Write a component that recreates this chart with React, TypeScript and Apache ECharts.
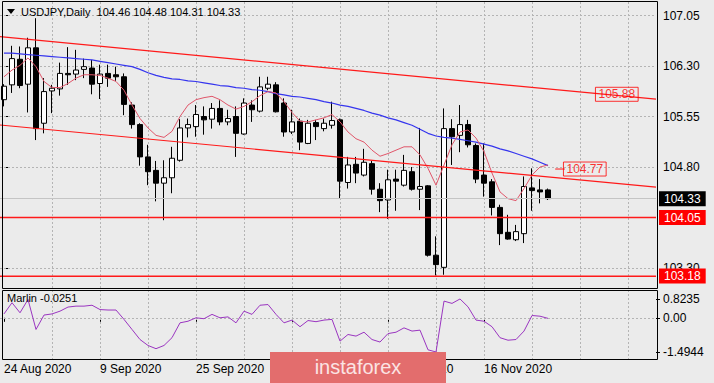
import React, { useEffect, useRef } from "react";
import * as echarts from "echarts";

// ---------- data ----------
const SYMBOL = "USDJPY,Daily";
const DATES = [
  "24 Aug 2020", "25 Aug 2020", "26 Aug 2020", "27 Aug 2020", "28 Aug 2020",
  "31 Aug 2020", "1 Sep 2020", "2 Sep 2020", "3 Sep 2020", "4 Sep 2020",
  "7 Sep 2020", "8 Sep 2020", "9 Sep 2020", "10 Sep 2020", "11 Sep 2020",
  "14 Sep 2020", "15 Sep 2020", "16 Sep 2020", "17 Sep 2020", "18 Sep 2020",
  "21 Sep 2020", "22 Sep 2020", "23 Sep 2020", "24 Sep 2020", "25 Sep 2020",
  "28 Sep 2020", "29 Sep 2020", "30 Sep 2020", "1 Oct 2020", "2 Oct 2020",
  "5 Oct 2020", "6 Oct 2020", "7 Oct 2020", "8 Oct 2020", "9 Oct 2020",
  "12 Oct 2020", "13 Oct 2020", "14 Oct 2020", "15 Oct 2020", "16 Oct 2020",
  "19 Oct 2020", "20 Oct 2020", "21 Oct 2020", "22 Oct 2020", "23 Oct 2020",
  "26 Oct 2020", "27 Oct 2020", "28 Oct 2020", "29 Oct 2020", "30 Oct 2020",
  "2 Nov 2020", "3 Nov 2020", "4 Nov 2020", "5 Nov 2020", "6 Nov 2020",
  "9 Nov 2020", "10 Nov 2020", "11 Nov 2020", "12 Nov 2020", "13 Nov 2020",
  "16 Nov 2020", "17 Nov 2020", "18 Nov 2020", "19 Nov 2020", "20 Nov 2020",
  "23 Nov 2020", "24 Nov 2020", "25 Nov 2020", "26 Nov 2020",
];

const OPEN = [
  105.80, 106.02, 106.40, 106.03, 106.57, 105.45, 105.93, 105.96, 106.19, 106.18,
  106.25, 106.27, 106.04, 106.19, 106.17, 106.14, 105.72, 105.43, 104.95, 104.75,
  104.56, 104.64, 104.90, 105.38, 105.40, 105.55, 105.51, 105.67, 105.47, 105.55,
  105.29, 105.72, 105.63, 105.97, 106.02, 105.75, 105.32, 105.48, 105.15, 105.46,
  105.37, 105.42, 105.50, 104.57, 104.84, 104.68, 104.85, 104.47, 104.31, 104.62,
  104.53, 104.73, 104.47, 104.52, 103.49, 103.31, 105.37, 105.27, 105.43, 105.12,
  104.68, 104.58, 104.20, 103.83, 103.72, 103.81, 104.49, 104.46, 104.46,
];
const HIGH = [
  106.03, 106.60, 106.59, 106.72, 107.01, 106.12, 106.02, 106.35, 106.58, 106.54,
  106.41, 106.39, 106.32, 106.32, 106.29, 106.19, 105.76, 105.45, 105.13, 104.89,
  104.90, 105.10, 105.51, 105.52, 105.72, 105.70, 105.75, 105.79, 105.65, 105.70,
  105.82, 105.79, 106.14, 106.14, 106.06, 105.82, 105.65, 105.52, 105.50, 105.50,
  105.52, 105.77, 105.52, 104.95, 104.95, 105.07, 104.89, 104.56, 104.76, 104.76,
  104.98, 104.80, 105.38, 104.53, 103.77, 105.67, 105.51, 105.72, 105.50, 105.15,
  105.15, 104.62, 104.24, 104.09, 103.94, 104.66, 104.78, 104.62, 104.48,
];
const LOW = [
  105.70, 105.90, 105.97, 105.61, 105.20, 105.30, 105.60, 105.86, 106.02, 106.09,
  106.12, 105.88, 105.81, 105.99, 106.08, 105.57, 105.37, 104.82, 104.53, 104.29,
  104.01, 104.41, 104.88, 105.24, 105.25, 105.28, 105.37, 105.42, 105.42, 104.95,
  105.28, 105.47, 105.61, 105.94, 105.61, 105.25, 105.29, 105.05, 105.14, 105.20,
  105.33, 105.37, 104.33, 104.48, 104.56, 104.66, 104.39, 104.13, 104.03, 104.15,
  104.51, 104.45, 104.16, 103.47, 103.19, 103.20, 104.83, 105.02, 105.09, 104.56,
  104.36, 104.08, 103.64, 103.72, 103.70, 103.67, 104.15, 104.26, 104.31,
];
const CLOSE = [
  106.00, 106.41, 106.01, 106.57, 105.37, 105.92, 105.97, 106.19, 106.17, 106.24,
  106.29, 106.03, 106.18, 106.12, 106.14, 105.73, 105.43, 104.95, 104.73, 104.56,
  104.64, 104.93, 105.38, 105.43, 105.58, 105.50, 105.67, 105.47, 105.52, 105.30,
  105.75, 105.65, 105.99, 106.03, 105.62, 105.32, 105.47, 105.17, 105.45, 105.40,
  105.45, 105.49, 104.59, 104.83, 104.71, 104.87, 104.47, 104.30, 104.61, 104.59,
  104.75, 104.47, 104.51, 103.49, 103.35, 105.37, 105.25, 105.43, 105.13, 104.62,
  104.56, 104.20, 103.81, 103.73, 103.84, 104.51, 104.45, 104.43, 104.33,
];

// red (fast) moving average
const MA_FAST = [
  106.14, 106.24, 106.31, 106.42, 106.29, 106.07, 105.98, 105.98, 106.04, 106.12,
  106.17, 106.17, 106.16, 106.12, 106.07, 105.94, 105.72, 105.52, 105.38, 105.27,
  105.24, 105.33, 105.55, 105.72, 105.80, 105.83, 105.85, 105.80, 105.72, 105.66,
  105.70, 105.77, 105.86, 105.92, 105.90, 105.77, 105.61, 105.48, 105.47, 105.50,
  105.53, 105.58, 105.47, 105.32, 105.22, 105.17, 105.05, 104.96, 105.00, 105.05,
  105.10, 105.10, 104.98, 104.78, 104.53, 104.83, 105.13, 105.32, 105.35, 105.23,
  105.03, 104.71, 104.43, 104.33, 104.30, 104.48, 104.68, 104.80, 104.83,
];
// blue (slow) moving average
const MA_SLOW = [
  106.49, 106.49, 106.48, 106.47, 106.46, 106.45, 106.44, 106.43, 106.42, 106.41,
  106.40, 106.39, 106.37, 106.35, 106.33, 106.31, 106.29, 106.25, 106.20, 106.16,
  106.13, 106.11, 106.10, 106.08, 106.07, 106.05, 106.03, 106.01, 106.00, 105.98,
  105.97, 105.95, 105.94, 105.92, 105.89, 105.87, 105.85, 105.84, 105.82, 105.80,
  105.77, 105.75, 105.72, 105.70, 105.67, 105.64, 105.60, 105.57, 105.53, 105.50,
  105.46, 105.42, 105.36, 105.30, 105.26, 105.24, 105.23, 105.21, 105.19, 105.17,
  105.14, 105.11, 105.07, 105.04, 105.00, 104.96, 104.92, 104.87, 104.82,
];
// Marlin oscillator
const MARLIN = [
  0.17, 0.66, 0.22, 0.80, -0.51, 0.12, 0.17, 0.29, 0.47, 0.51,
  0.51, 0.55, 0.36, 0.34, 0.34, -0.07, -0.51, -0.95, -1.21, -1.35,
  -1.21, -0.87, -0.22, -0.15, 0.0, -0.04, 0.15, 0.0, 0.04, -0.22,
  0.29, 0.15, 0.55, 0.58, 0.15, -0.22, -0.10, -0.39, -0.12, -0.17,
  -0.10, -0.07, -1.02, -0.73, -0.80, -0.63, -0.95, -1.06, -0.69, -0.63,
  -0.44, -0.58, -0.54, -1.40, -1.4944, 0.73, 0.63, 0.8235, 0.48, -0.10,
  -0.15, -0.39, -0.87, -0.98, -0.95, -0.58, 0.10, 0.07, -0.0251,
];

const PRICE_TICKS = [107.05, 106.3, 105.55, 104.8, 104.05, 103.3];
const PRICE_LABELS = [107.05, 106.3, 105.55, 104.8, 103.3];
const LEVELS = [104.05, 103.18];
const BID = 104.33;
const MARLIN_TICKS = [0.8235, 0, -1.4944];

// trend-channel lines (x in bar units, y in price)
const UPPER_TREND = [[-0.5, 106.735], [81.5, 105.807]];
const LOWER_TREND = [[-0.5, 105.424], [81.5, 104.5]];
const PRICE_TAGS = [[76.6, 105.88], [72.6, 104.77]];
const TAG_DASH = [[68.9, 104.77], [70.1, 104.77]];

const SLOTS = 82;
const LABEL_EVERY = 12;
const GRID_EVERY = 6;

// ---------- chart ----------
const FONT = "'Liberation Sans', Arial, sans-serif";
const RED = "#ff1a1a";

export default function App() {
  const ref = useRef<HTMLDivElement | null>(null);

  useEffect(() => {
    if (!ref.current) return;
    const chart = echarts.init(ref.current, undefined, { renderer: "svg" });
    const n = DATES.length;
    const cats = [...DATES, ...Array(SLOTS - n).fill("")];
    const vGrid: number[] = [];
    for (let i = GRID_EVERY; i < SLOTS; i += GRID_EVERY) vGrid.push(i);
    const showLabel = (idx: number) => idx % LABEL_EVERY === 0 && idx < n;
    const last = n - 1;
    const gridLine = { type: [2, 2] as any, color: "#b4b4b4", width: 1 };
    const hGrid = PRICE_TICKS.filter((v) => !LEVELS.includes(v));
    const tagLabel = (bg: string) => ({
      show: true, position: "end", distance: 3,
      formatter: (p: any) => Number(p.value).toFixed(2),
      backgroundColor: bg, color: "#fff", padding: [2, 5, 1, 5], fontSize: 12, fontFamily: FONT,
    });
    const xMin = -0.5;
    const xMax = SLOTS - 0.5;

    const levelLines = LEVELS.map((v) => ({
      type: "line", xAxisIndex: 2, yAxisIndex: 0, z: 6, symbol: "none", silent: true,
      data: [[xMin, v], [xMax, v]],
      color: RED,
      lineStyle: { color: RED, width: 1.4, type: "solid", opacity: 1 },
    }));

    const option: any = {
      animation: false,
      backgroundColor: "#ebebeb",
      grid: [
        { left: 0, top: 2, width: 656, height: 286, outerBoundsMode: "none", containLabel: false },
        { left: 0, top: 291, width: 656, height: 69, outerBoundsMode: "none", containLabel: false },
      ],
      xAxis: [
        { type: "category", gridIndex: 0, data: cats, boundaryGap: true, show: false },
        {
          type: "category", gridIndex: 1, data: cats, boundaryGap: true,
          axisLine: { show: false },
          axisTick: { show: true, interval: showLabel, alignWithLabel: true, length: 4, lineStyle: { color: "#000" } },
          axisLabel: {
            show: true, interval: showLabel, align: "left", margin: 3,
            color: "#000", fontSize: 12, fontFamily: FONT,
          },
          splitLine: { show: false },
        },
        { type: "value", gridIndex: 0, min: xMin, max: xMax, show: false, splitLine: { show: false } },
      ],
      yAxis: [
        {
          type: "value", gridIndex: 0, position: "right", min: 103.003, max: 107.2506,
          axisLine: { show: false }, splitLine: { show: false },
          axisTick: { show: true, customValues: PRICE_TICKS, length: 4, lineStyle: { color: "#000" } },
          axisLabel: {
            show: true, customValues: PRICE_LABELS, margin: 7,
            formatter: (v: number) => v.toFixed(2), color: "#000", fontSize: 12, fontFamily: FONT,
          },
        },
        {
          type: "value", gridIndex: 1, position: "right", min: -1.8452, max: 1.1718,
          axisLine: { show: false }, splitLine: { show: false },
          axisTick: { show: true, customValues: MARLIN_TICKS, length: 4, lineStyle: { color: "#000" } },
          axisLabel: {
            show: true, customValues: MARLIN_TICKS, margin: 7,
            formatter: (v: number) => (v === 0 ? "0.00" : String(v)), color: "#000", fontSize: 12, fontFamily: FONT,
          },
        },
      ],
      series: [
        // main grid lines
        {
          type: "line", xAxisIndex: 0, yAxisIndex: 0, data: [], z: 1, silent: true, color: "#b4b4b4",
          markLine: {
            silent: true, z: 1, symbol: ["none", "none"], label: { show: false },
            lineStyle: gridLine, emphasis: { disabled: true },
            data: [...hGrid.map((v) => ({ yAxis: v })), ...vGrid.map((i) => ({ xAxis: i }))],
          },
        },
        // indicator grid lines
        {
          type: "line", xAxisIndex: 1, yAxisIndex: 1, data: [], z: 1, silent: true, color: "#b4b4b4",
          markLine: {
            silent: true, z: 1, symbol: ["none", "none"], label: { show: false },
            lineStyle: gridLine, emphasis: { disabled: true },
            data: [{ yAxis: 0 }, ...vGrid.map((i) => ({ xAxis: i }))],
          },
        },
        // bid line
        {
          type: "line", xAxisIndex: 0, yAxisIndex: 0, data: [], z: 2, silent: true, color: "#c4c4c4",
          markLine: {
            silent: true, z: 6, symbol: ["none", "none"], emphasis: { disabled: true },
            lineStyle: { color: "#c4c4c4", width: 1, type: "solid" },
            label: tagLabel("#000"),
            data: [{ yAxis: BID }],
          },
        },
        // red level tags (lines drawn separately)
        {
          type: "line", xAxisIndex: 0, yAxisIndex: 0, data: [], z: 2, silent: true, color: RED,
          markLine: {
            silent: true, z: 7, symbol: ["none", "none"], emphasis: { disabled: true },
            lineStyle: { color: RED, width: 1, type: "solid" },
            label: tagLabel("#ff0000"),
            data: LEVELS.map((v) => ({ yAxis: v })),
          },
        },
        // candles
        {
          type: "candlestick", xAxisIndex: 0, yAxisIndex: 0, z: 3, barWidth: 5,
          data: OPEN.map((o, i) => [o, CLOSE[i], LOW[i], HIGH[i]]),
          itemStyle: {
            color: "#ffffff", color0: "#000000", borderColor: "#000000", borderColor0: "#000000",
            borderColorDoji: "#000000", borderWidth: 1,
          },
        },
        ...levelLines,
        {
          type: "line", xAxisIndex: 0, yAxisIndex: 0, data: MA_SLOW, z: 4, symbol: "none",
          lineStyle: { color: "#3535ee", width: 1.2 }, silent: true,
        },
        {
          type: "line", xAxisIndex: 0, yAxisIndex: 0, data: MA_FAST, z: 4, symbol: "none",
          lineStyle: { color: "#e0566a", width: 1 }, silent: true,
        },
        {
          type: "line", xAxisIndex: 2, yAxisIndex: 0, data: UPPER_TREND, z: 4, symbol: "none",
          lineStyle: { color: RED, width: 1.2 }, silent: true,
        },
        {
          type: "line", xAxisIndex: 2, yAxisIndex: 0, data: LOWER_TREND, z: 4, symbol: "none",
          lineStyle: { color: RED, width: 1.2 }, silent: true,
        },
        {
          type: "line", xAxisIndex: 2, yAxisIndex: 0, data: TAG_DASH, z: 4, symbol: "none",
          lineStyle: { color: RED, width: 1 }, silent: true,
        },
        {
          type: "scatter", xAxisIndex: 2, yAxisIndex: 0, data: PRICE_TAGS, z: 5, silent: true,
          symbol: "rect", symbolSize: 1, itemStyle: { color: "rgba(0,0,0,0)" },
          label: {
            show: true, position: "inside", formatter: (p: any) => Number(p.value[1]).toFixed(2),
            color: "#ff0000", borderColor: "#ff0000", borderWidth: 1, padding: [2, 3, 0, 3],
            textBorderWidth: 0, fontSize: 12, fontFamily: FONT,
          },
        },
        // Marlin
        {
          type: "line", xAxisIndex: 1, yAxisIndex: 1, data: MARLIN, z: 3, symbol: "none",
          lineStyle: { color: "#9a35c0", width: 1 }, silent: true,
        },
      ],
      graphic: [
        {
          type: "rect", z: 100, silent: true,
          shape: { x: 2.5, y: 1.5, width: 655, height: 287 },
          style: { fill: "none", stroke: "#000", lineWidth: 1 },
        },
        {
          type: "rect", z: 100, silent: true,
          shape: { x: 2.5, y: 290.5, width: 655, height: 69 },
          style: { fill: "none", stroke: "#000", lineWidth: 1 },
        },
        {
          type: "polygon", z: 100, silent: true,
          shape: { points: [[7, 9], [15, 9], [11, 14]] },
          style: { fill: "#000" },
        },
        {
          type: "text", z: 100, silent: true, x: 21, y: 12,
          style: {
            text: `${SYMBOL}  ${OPEN[last].toFixed(2)} ${HIGH[last].toFixed(2)} ${LOW[last].toFixed(2)} ${CLOSE[last].toFixed(2)}`,
            fill: "#000", font: `11px ${FONT}`, verticalAlign: "middle",
          },
        },
        {
          type: "text", z: 100, silent: true, x: 7, y: 298,
          style: {
            text: `Marlin ${MARLIN[last].toFixed(4)}`,
            fill: "#000", font: `11px ${FONT}`, verticalAlign: "middle",
          },
        },
        {
          type: "rect", z: 110, silent: true,
          shape: { x: 270, y: 352, width: 176, height: 31 },
          style: { fill: "#e36d6d" },
        },
        {
          type: "text", z: 111, silent: true, x: 358, y: 367,
          style: {
            text: "instaforex", fill: "#fbe4e4", font: `20px ${FONT}`,
            align: "center", verticalAlign: "middle",
          },
        },
      ],
    };

    chart.setOption(option);
    return () => chart.dispose();
  }, []);

  return (
    <div
      ref={ref}
      style={{ position: "fixed", left: 0, top: 0, width: 714, height: 383, background: "#ebebeb" }}
    />
  );
}
